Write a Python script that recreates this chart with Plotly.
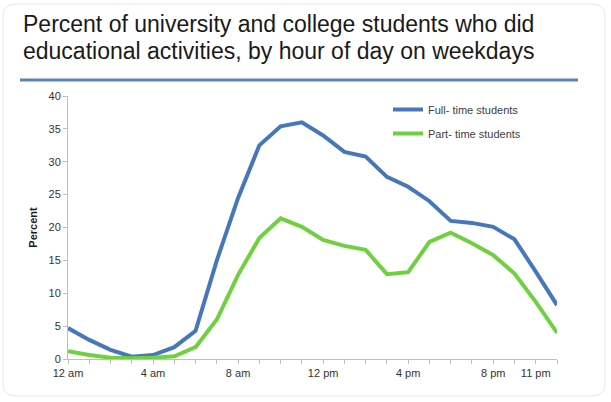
import plotly.graph_objects as go

hours = list(range(24))
full_time = [4.7, 2.9, 1.4, 0.35, 0.6, 1.8, 4.3, 15.0, 24.5, 32.5, 35.4, 36.0,
             34.0, 31.5, 30.8, 27.7, 26.2, 24.0, 21.0, 20.7, 20.1, 18.2, 13.3, 8.2]
part_time = [1.2, 0.6, 0.2, 0.1, 0.2, 0.4, 1.8, 6.0, 12.8, 18.4, 21.4, 20.1,
             18.1, 17.2, 16.6, 12.9, 13.2, 17.8, 19.2, 17.6, 15.8, 13.0, 8.7, 4.0]
tick_labels = {0: "12 am", 4: "4 am", 8: "8 am", 12: "12 pm", 16: "4 pm", 20: "8 pm", 22: "11 pm"}
title_lines = ["Percent of university and college students who did",
               "educational activities, by hour of day on weekdays"]

W, H = 611, 402
L, R, T, B = 68, 54, 96, 43
pw, ph = W - L - R, H - T - B

def px(x):
    return (x - L) / pw

def py(y):
    return (H - B - y) / ph

fig = go.Figure()
fig.add_trace(go.Scatter(x=hours, y=full_time, mode="lines", name="Full- time students",
                         line=dict(color="#4677ba", width=4), legendgroup="a"))
fig.add_trace(go.Scatter(x=hours, y=part_time, mode="lines", name="Part- time students",
                         line=dict(color="#6fd13f", width=4), legendgroup="b"))

# outer rounded card border
x0, x1, y0, y1 = px(3), px(605), py(396), py(4)
rx, ry = 12 / pw, 12 / ph
path = (f"M {x0+rx},{y1} L {x1-rx},{y1} Q {x1},{y1} {x1},{y1-ry} "
        f"L {x1},{y0+ry} Q {x1},{y0} {x1-rx},{y0} L {x0+rx},{y0} "
        f"Q {x0},{y0} {x0},{y0+ry} L {x0},{y1-ry} Q {x0},{y1} {x0+rx},{y1} Z")
fig.add_shape(type="path", path=path, xref="paper", yref="paper",
              line=dict(color="#e6e6e6", width=1), layer="below")
# separator line under title
fig.add_shape(type="line", xref="paper", yref="paper", x0=px(20), x1=px(578),
              y0=py(80), y1=py(80), line=dict(color="#5a84b5", width=3))

for i, line in enumerate(title_lines):
    fig.add_annotation(text=line, xref="paper", yref="paper", x=px(21), y=py(9 + 27 * i),
                       xanchor="left", yanchor="top", align="left", showarrow=False,
                       font=dict(size=23, color="#1a1a1a", family="Liberation Sans, Arial, sans-serif"))

fig.update_layout(
    width=W, height=H,
    margin=dict(l=L, r=R, t=T, b=B),
    paper_bgcolor="white", plot_bgcolor="white",
    font=dict(family="Liberation Sans, Arial, sans-serif", color="#333333"),
    showlegend=True,
    legend=dict(x=px(388), y=py(95), xanchor="left", yanchor="top",
                font=dict(size=11, color="#404040"), bgcolor="rgba(0,0,0,0)",
                tracegroupgap=5, itemwidth=30),
    xaxis=dict(range=[0, 23], tickmode="array", tickvals=hours,
               ticktext=[tick_labels.get(h, "") for h in hours],
               showgrid=False, zeroline=False, showline=True, linecolor="#bfbfbf",
               ticks="outside", ticklen=4, tickcolor="#bfbfbf",
               tickfont=dict(size=11, color="#333333")),
    yaxis=dict(range=[0, 40], dtick=5, showgrid=False, zeroline=False,
               showline=True, linecolor="#bfbfbf", ticks="outside", ticklen=4,
               tickcolor="#bfbfbf", tickfont=dict(size=11, color="#333333"),
               title=dict(text="<b>Percent</b>", font=dict(size=11, color="#1a1a1a"), standoff=8)),
)

fig.write_html("out.html")
